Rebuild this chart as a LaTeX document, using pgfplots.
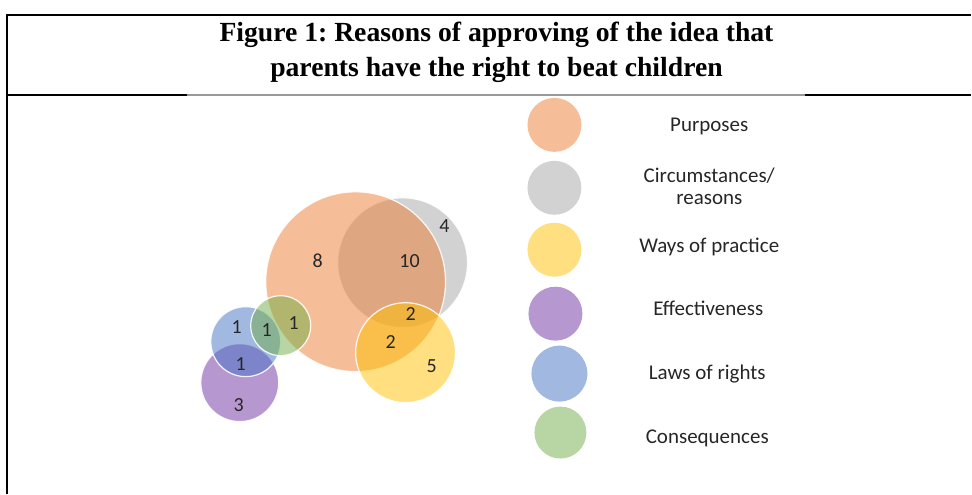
\documentclass[border=0pt]{standalone}
\usepackage{pgfplots}
\pgfplotsset{compat=1.18}
\usepackage{fontspec}
\setmainfont{Carlito}
\newfontfamily\timesfont{Liberation Serif}
\frenchspacing
\definecolor{cOrange}{HTML}{ED7D31}
\definecolor{cGrey}{HTML}{A5A5A5}
\definecolor{cYellow}{HTML}{FFC000}
\definecolor{cPurple}{HTML}{7030A0}
\definecolor{cBlue}{HTML}{4472C4}
\definecolor{cGreen}{HTML}{70AD47}
\pgfplotsset{
  bub/.style 2 args={only marks, mark=*, mark size=#1,
    mark options={fill=#2, fill opacity=0.5, draw=white, draw opacity=0.9, line width=0.6pt}},
  leg/.style 2 args={only marks, mark=*, mark size=#1,
    mark options={fill=#2, fill opacity=0.5, draw=white, draw opacity=0, line width=0pt}},
}
\begin{document}
\begin{tikzpicture}
\begin{axis}[x=0.5pt, y=0.5pt, xmin=0, xmax=972, ymin=0, ymax=494,
  hide axis, clip=false]
\path (axis cs:0,0) rectangle (axis cs:972,494);
% frame
\draw[line width=1pt] (axis cs:7,0) -- (axis cs:7,479) -- (axis cs:972,479);
\draw[line width=1pt] (axis cs:7,399) -- (axis cs:187,399);
\draw[line width=1pt, gray!80] (axis cs:187,399) -- (axis cs:806,399);
\draw[line width=1pt] (axis cs:806,399) -- (axis cs:972,399);
% title
\node[anchor=base, font=\timesfont\bfseries\fontsize{13.85}{17}\selectfont] at (axis cs:497,452) {Figure 1: Reasons of approving of the idea that};
\node[anchor=base, font=\timesfont\bfseries\fontsize{13.85}{17}\selectfont] at (axis cs:497,417) {parents have the right to beat children};
% venn bubbles
\addplot[bub={32.5pt}{cGrey}] coordinates {(403,231)};
\addplot[bub={45pt}{cOrange}] coordinates {(356,212)};
\addplot[bub={25pt}{cYellow}] coordinates {(406,141)};
\addplot[bub={19.5pt}{cPurple}] coordinates {(240,111)};
\addplot[bub={17.5pt}{cBlue}] coordinates {(246,152)};
\addplot[bub={15pt}{cGreen}] coordinates {(281,168)};
% counts
\addplot[only marks, mark=none, nodes near coords, point meta=explicit symbolic,
  every node near coord/.append style={anchor=center, inner sep=0pt,
    font=\fontsize{10}{11}\selectfont, text=black!85}]
  table[meta=lab] {
x y lab
318 233 8
410 233 10
445 268 4
411 180 2
391 152 2
432 127 5
237 167 1
267 164 1
294 171 1
241 130 1
239 89 3
};
% legend markers
\addplot[leg={13.5pt}{cOrange}] coordinates {(555,369)};
\addplot[leg={13.5pt}{cGrey}] coordinates {(555,306)};
\addplot[leg={13.5pt}{cYellow}] coordinates {(555,244)};
\addplot[leg={13.5pt}{cPurple}] coordinates {(556,180)};
\addplot[leg={14pt}{cBlue}] coordinates {(560,120)};
\addplot[leg={13pt}{cGreen}] coordinates {(561,61)};
% legend text
\tikzset{legt/.style={anchor=base, font=\fontsize{10.5}{11}\selectfont, text=black!85}}
\node[legt] at (axis cs:710,362) {Purposes};
\node[legt] at (axis cs:710,311) {Circumstances/};
\node[legt] at (axis cs:710,289) {reasons};
\node[legt] at (axis cs:710,241) {Ways of practice};
\node[legt] at (axis cs:709,178) {Effectiveness};
\node[legt] at (axis cs:708,114) {Laws of rights};
\node[legt] at (axis cs:708,50) {Consequences};
\end{axis}
\end{tikzpicture}
\end{document}
